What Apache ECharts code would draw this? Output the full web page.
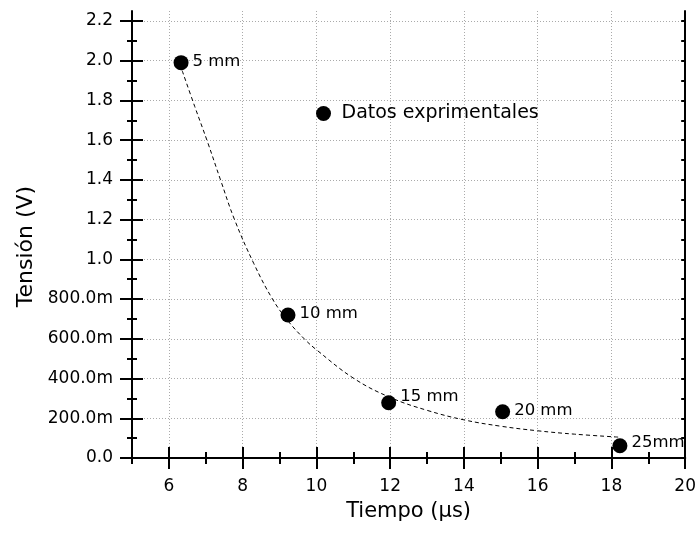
<!DOCTYPE html>
<html><head><meta charset="utf-8">
<script src="https://cdn.jsdelivr.net/npm/echarts@6/dist/echarts.min.js"></script>
<style>html,body{margin:0;padding:0;background:#fff}#c{width:699px;height:539px}</style>
</head><body><div id="c"></div>
<script>
// ---- data ----
const pointX = [6.33, 9.23, 11.96, 15.05, 18.23];
const pointY = [1.99, 0.72, 0.278, 0.233, 0.062];
const pointLabels = ['5 mm', '10 mm', '15 mm', '20 mm', '25mm'];
const curveX = [6.36, 6.70, 7.05, 7.40, 7.78, 8.30, 8.81, 9.23, 9.67, 10.0, 11.02, 12.0, 13.0, 14.0, 15.0, 16.0, 17.0, 18.2];
const curveY = [1.95, 1.77, 1.59, 1.40, 1.20, 0.98, 0.80, 0.69, 0.60, 0.545, 0.40, 0.305, 0.24, 0.192, 0.16, 0.137, 0.12, 0.105];
const xMajorTicks = [6, 8, 10, 12, 14, 16, 18, 20];
const xMinorTicks = [5, 7, 9, 11, 13, 15, 17, 19];
const yMajorTicks = [0, 0.2, 0.4, 0.6, 0.8, 1.0, 1.2, 1.4, 1.6, 1.8, 2.0, 2.2];
const yMinorTicks = [0.1, 0.3, 0.5, 0.7, 0.9, 1.1, 1.3, 1.5, 1.7, 1.9, 2.1];
const yTickLabels = ['0.0', '200.0m', '400.0m', '600.0m', '800.0m', '1.0', '1.2', '1.4', '1.6', '1.8', '2.0', '2.2'];
const seriesName = 'Datos exprimentales';
const xName = 'Tiempo (\u03bcs)';
const yName = 'Tensi\u00f3n (V)';
const xRange = [5, 20];
const yRange = [0, 2.25];

// ---- styles (kept apart from the data) ----
const labelOffsets = [[0, -1], [0, -1], [0, -6], [0, -1], [0, -3]];
const FONT = 'DejaVu Sans';
const blk = '#000';

function yLabel(v) {
  for (let i = 0; i < yMajorTicks.length; i++) if (Math.abs(v - yMajorTicks[i]) < 1e-6) return yTickLabels[i];
  return '';
}
function tickAxis(kind, pos, values, len, inside, extra) {
  const a = {
    type: 'value', position: pos, min: kind === 'x' ? xRange[0] : yRange[0], max: kind === 'x' ? xRange[1] : yRange[1],
    axisLine: { show: false }, axisLabel: { show: false }, splitLine: { show: false },
    axisTick: { show: true, customValues: values, length: len, inside: inside, lineStyle: { color: blk, width: 2 } }
  };
  return Object.assign(a, extra || {});
}
const allYMinor = yMajorTicks.concat(yMinorTicks);

const option = {
  animation: false,
  backgroundColor: '#fff',
  grid: { left: 132, right: 12, top: 11, bottom: 81, containLabel: false },
  legend: {
    data: [{ name: seriesName, icon: 'circle', itemStyle: { color: blk, opacity: 1 } }],
    left: 316, top: 104, padding: 0, itemWidth: 26, itemHeight: 15,
    textStyle: { fontFamily: FONT, fontSize: 19, color: blk }
  },
  xAxis: [
    tickAxis('x', 'bottom', xMajorTicks, 11, false, {
      axisLine: { show: true, onZero: false, lineStyle: { color: blk, width: 2 } },
      axisLabel: { show: true, customValues: xMajorTicks, margin: 20, fontFamily: FONT, fontSize: 17, color: blk },
      name: xName, nameLocation: 'middle', nameGap: 54,
      nameTextStyle: { fontFamily: FONT, fontSize: 21, color: blk, verticalAlign: 'middle' }
    }),
    tickAxis('x', 'bottom', xMajorTicks, 11, true, {
      splitLine: { show: true, lineStyle: { color: '#aaaaaa', width: 1, type: [1, 2] } }
    }),
    tickAxis('x', 'bottom', xMinorTicks, 6, false),
    tickAxis('x', 'bottom', xMinorTicks, 6, true),
    { type: 'value', position: 'top', min: xRange[0], max: xRange[1],
      axisLine: { show: true, lineStyle: { color: blk, width: 2 } },
      axisTick: { show: false }, axisLabel: { show: false }, splitLine: { show: false } }
  ],
  yAxis: [
    tickAxis('y', 'left', yMajorTicks, 12, false, {
      axisLine: { show: true, onZero: false, lineStyle: { color: blk, width: 2 } },
      axisLabel: { show: true, customValues: yMajorTicks, margin: 19, formatter: yLabel, fontFamily: FONT, fontSize: 17, color: blk },
      name: yName, nameLocation: 'middle', nameGap: 105, nameRotate: 90,
      nameTextStyle: { fontFamily: FONT, fontSize: 22, color: blk, verticalAlign: 'middle', padding: [0, 24, 0, 0] }
    }),
    tickAxis('y', 'left', yMajorTicks, 11, true, {
      splitLine: { show: true, lineStyle: { color: '#aaaaaa', width: 1, type: [1, 2] } }
    }),
    tickAxis('y', 'left', yMinorTicks, 5, false),
    tickAxis('y', 'left', yMinorTicks, 5, true),
    tickAxis('y', 'right', allYMinor, 4, true, {
      axisLine: { show: true, onZero: false, lineStyle: { color: blk, width: 2 } }
    })
  ],
  series: [
    {
      type: 'line', name: 'fit', xAxisIndex: 0, yAxisIndex: 0,
      data: curveX.map((x, i) => [x, curveY[i]]),
      smooth: 0.4, showSymbol: false, silent: true, z: 2,
      lineStyle: { color: blk, width: 1, type: [4, 3], opacity: 1 }
    },
    {
      type: 'scatter', name: seriesName, xAxisIndex: 0, yAxisIndex: 0, z: 5,
      symbol: 'circle', symbolSize: 15, itemStyle: { color: blk, opacity: 1 },
      data: pointX.map((x, i) => ({
        value: [x, pointY[i]],
        label: { offset: labelOffsets[i] }
      })),
      label: {
        show: true, position: 'right', distance: 4,
        formatter: p => pointLabels[p.dataIndex],
        fontFamily: FONT, fontSize: 16.5, color: blk, opacity: 1
      }
    }
  ]
};
const chart = echarts.init(document.getElementById('c'), null, { renderer: 'canvas' });
chart.setOption(option);
</script>
</body></html>
